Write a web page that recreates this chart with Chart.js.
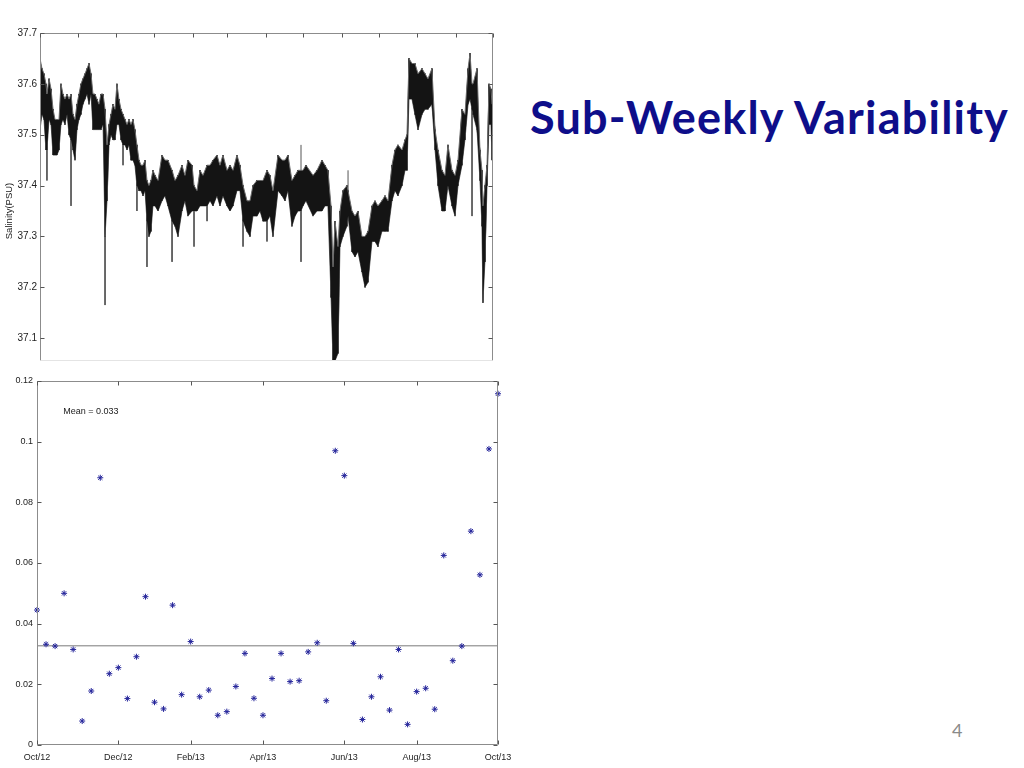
<!DOCTYPE html>
<html>
<head>
<meta charset="utf-8">
<script src="https://cdn.jsdelivr.net/npm/chart.js@4.4.0/dist/chart.umd.min.js"></script>
<style>
  body { margin: 0; background: #fff; width: 1024px; height: 768px; position: relative; overflow: hidden; }
  #topWrap { position: absolute; left: 0; top: 0; width: 510px; height: 370px; }
  #botWrap { position: absolute; left: 0; top: 370px; width: 520px; height: 398px; }
  .title { position: absolute; left: 530px; top: 90px; font-family: Lato, sans-serif; font-weight: bold;
           font-size: 45px; letter-spacing: 1.2px; line-height: 1.2; color: #0e0e8a; white-space: nowrap; }
  .pagenum { position: absolute; left: 952px; top: 719px; font-family: Lato, sans-serif; font-size: 18px; color: #8a8a8a; }
</style>
</head>
<body>
<div id="topWrap"><canvas id="salChart" width="510" height="370"></canvas></div>
<div id="botWrap"><canvas id="varChart" width="520" height="398"></canvas></div>
<div class="title">Sub-Weekly Variability</div>
<div class="pagenum">4</div>
<script>
// top panel: salinity record, envelope read column by column (day since 1 Oct 2012, high, low)
const salDay = [
  0, 1.6, 3.2, 4.8, 5.6, 7.3, 8.9, 10.5, 12.1, 13.7,
  15.3, 16.9, 18.5, 20.1, 21.8, 23.4, 25, 26.6, 28.2, 29.8,
  31.4, 33, 34.6, 36.3, 37.9, 39.5, 41.1, 42.7, 44.3, 45.9,
  47.5, 49.1, 50.8, 52.4, 54, 55.6, 57.2, 58.8, 60.4, 62,
  63.6, 65.3, 66.9, 68.5, 70.1, 71.7, 73.3, 74.9, 76.5, 78.1,
  79.8, 81.4, 83, 84.6, 86.2, 87.8, 89.4, 91, 92.7, 95.1,
  98.3, 100.7, 103.1, 106.4, 108.8, 111.2, 114.4, 116.8, 119.2, 122.5,
  124.1, 126.5, 128.9, 131.3, 134.6, 137, 139.4, 142.6, 145, 147.4,
  150.7, 153.1, 155.5, 158.7, 161.1, 163.6, 166.8, 169.2, 171.6, 174.8,
  177.3, 179.7, 182.9, 185.3, 187.7, 191.8, 195, 197.4, 199.8, 203,
  205.5, 207.9, 210.3, 211.9, 214.3, 220, 223.2, 227.2, 229.6, 232,
  234.5, 236.1, 237.7, 240.1, 241.7, 244.1, 247.3, 248.2, 251.4, 253.8,
  256.2, 259.4, 261.9, 264.3, 267.5, 269.9, 272.3, 275.5, 278, 280.4,
  283.6, 286, 288.4, 291.7, 294.1, 295.7, 297.3, 299.7, 302.1, 304.6,
  307.8, 310.2, 312.6, 315.8, 318.3, 320.7, 323.9, 326.3, 328.7, 332,
  334.4, 336.8, 340, 342.4, 344.9, 346.5, 348.1, 348.9, 352.1, 354.5,
  356.1, 356.9, 358.5, 360.2, 361.8, 363.4, 364.2
];
const salHigh = [
  37.65, 37.63, 37.62, 37.60, 37.58, 37.61, 37.59, 37.55, 37.53, 37.53,
  37.53, 37.60, 37.58, 37.57, 37.58, 37.57, 37.58, 37.54, 37.53, 37.56,
  37.58, 37.60, 37.61, 37.62, 37.63, 37.64, 37.62, 37.58, 37.58, 37.57,
  37.56, 37.58, 37.58, 37.55, 37.48, 37.52, 37.54, 37.56, 37.55, 37.60,
  37.57, 37.55, 37.54, 37.53, 37.52, 37.53, 37.52, 37.53, 37.51, 37.48,
  37.45, 37.44, 37.44, 37.45, 37.41, 37.40, 37.41, 37.43, 37.42, 37.41,
  37.46, 37.45, 37.45, 37.43, 37.41, 37.42, 37.44, 37.42, 37.45, 37.44,
  37.40, 37.39, 37.43, 37.42, 37.44, 37.44, 37.45, 37.46, 37.44, 37.46,
  37.43, 37.44, 37.43, 37.46, 37.44, 37.40, 37.37, 37.37, 37.40, 37.41,
  37.41, 37.41, 37.43, 37.42, 37.39, 37.46, 37.45, 37.45, 37.46, 37.41,
  37.42, 37.43, 37.43, 37.43, 37.44, 37.42, 37.43, 37.45, 37.44, 37.43,
  37.36, 37.24, 37.33, 37.28, 37.35, 37.39, 37.40, 37.39, 37.35, 37.34,
  37.35, 37.30, 37.30, 37.31, 37.36, 37.37, 37.36, 37.37, 37.38, 37.37,
  37.44, 37.47, 37.48, 37.47, 37.49, 37.50, 37.65, 37.64, 37.64, 37.62,
  37.63, 37.62, 37.61, 37.63, 37.51, 37.47, 37.43, 37.42, 37.48, 37.43,
  37.42, 37.45, 37.55, 37.54, 37.63, 37.66, 37.60, 37.60, 37.63, 37.47,
  37.43, 37.36, 37.40, 37.44, 37.60, 37.59, 37.56
];
const salLow = [
  37.51, 37.54, 37.53, 37.47, 37.47, 37.53, 37.52, 37.46, 37.46, 37.46,
  37.47, 37.52, 37.53, 37.52, 37.54, 37.50, 37.49, 37.47, 37.45, 37.51,
  37.53, 37.54, 37.56, 37.57, 37.58, 37.56, 37.58, 37.51, 37.51, 37.51,
  37.51, 37.51, 37.52, 37.30, 37.37, 37.48, 37.50, 37.49, 37.49, 37.52,
  37.52, 37.49, 37.48, 37.48, 37.47, 37.48, 37.45, 37.45, 37.44, 37.40,
  37.39, 37.39, 37.38, 37.39, 37.33, 37.30, 37.31, 37.36, 37.36, 37.35,
  37.37, 37.38, 37.36, 37.33, 37.32, 37.30, 37.35, 37.37, 37.34, 37.35,
  37.35, 37.35, 37.36, 37.36, 37.36, 37.37, 37.36, 37.38, 37.36, 37.38,
  37.36, 37.35, 37.36, 37.39, 37.39, 37.33, 37.31, 37.30, 37.34, 37.34,
  37.35, 37.33, 37.33, 37.34, 37.30, 37.39, 37.38, 37.37, 37.39, 37.32,
  37.34, 37.35, 37.35, 37.36, 37.37, 37.34, 37.35, 37.35, 37.36, 37.36,
  37.18, 37.055, 37.055, 37.07, 37.28, 37.30, 37.32, 37.34, 37.27, 37.26,
  37.27, 37.23, 37.20, 37.21, 37.29, 37.29, 37.28, 37.31, 37.31, 37.31,
  37.37, 37.39, 37.38, 37.40, 37.43, 37.43, 37.57, 37.57, 37.54, 37.51,
  37.54, 37.55, 37.55, 37.56, 37.47, 37.40, 37.35, 37.35, 37.40, 37.36,
  37.34, 37.40, 37.44, 37.49, 37.56, 37.57, 37.55, 37.54, 37.51, 37.41,
  37.32, 37.17, 37.25, 37.40, 37.52, 37.52, 37.45
];
// single-sample spikes that stick out of the band (day, band edge, tip)
const spikeDay = [5.6, 25, 52.4, 66.9, 78.1, 86.2, 106.4, 124.1, 134.6, 163.6, 182.9, 210.3, 210.3, 248.2, 348.1];
const spikeBase = [37.47, 37.49, 37.30, 37.48, 37.40, 37.33, 37.33, 37.35, 37.36, 37.33, 37.33, 37.35, 37.43, 37.39, 37.55];
const spikeTip = [37.41, 37.36, 37.165, 37.44, 37.35, 37.24, 37.25, 37.28, 37.33, 37.28, 37.29, 37.25, 37.48, 37.43, 37.34];

const salTicks = [37.1, 37.2, 37.3, 37.4, 37.5, 37.6, 37.7];
const monthStartDays = [0, 31, 61, 92, 123, 151, 182, 212, 243, 273, 304, 335, 365];

// bottom panel: weekly sub-weekly std
const weekValues = [
  0.0445, 0.0332, 0.0326, 0.050, 0.0315, 0.0079, 0.0178, 0.0881, 0.0235, 0.0255,
  0.0153, 0.0291, 0.0489, 0.0141, 0.0119, 0.0461, 0.0166, 0.0341, 0.0159, 0.0181,
  0.0098, 0.0110, 0.0193, 0.0302, 0.0154, 0.0098, 0.0219, 0.0302, 0.0209, 0.0212,
  0.0307, 0.0337, 0.0146, 0.0970, 0.0888, 0.0335, 0.0084, 0.0159, 0.0225, 0.0115,
  0.0315, 0.0068, 0.0176, 0.0187, 0.0118, 0.0625, 0.0278, 0.0326, 0.0705, 0.0561,
  0.0976, 0.1158
];
const weekTickPos = [0, 9, 17, 25, 34, 42, 51];
const weekTickLabels = ["Oct/12", "Dec/12", "Feb/13", "Apr/13", "Jun/13", "Aug/13", "Oct/13"];
const varTicks = [0, 0.02, 0.04, 0.06, 0.08, 0.1, 0.12];

const meanValue = weekValues.reduce((s, v) => s + v, 0) / weekValues.length;

const fontFamily = "'Liberation Sans', Arial, sans-serif";

// matlab style box with inward ticks
const boxTicks = {
  id: "boxTicks",
  afterDatasetsDraw(chart, args, opts) {
    const { ctx, chartArea: a, scales } = chart;
    const L = Math.round(a.left) + 0.5, R = Math.round(a.right) - 0.5;
    const T = Math.round(a.top) + 0.5, B = Math.round(a.bottom) - 0.5;
    ctx.save();
    ctx.lineWidth = 1;
    ctx.strokeStyle = opts.boxColor;
    ctx.beginPath();
    ctx.moveTo(L, B); ctx.lineTo(L, T); ctx.lineTo(R, T); ctx.lineTo(R, B);
    ctx.stroke();
    ctx.strokeStyle = opts.bottomColor;
    ctx.beginPath();
    ctx.moveTo(L, B); ctx.lineTo(R, B);
    ctx.stroke();
    ctx.strokeStyle = opts.tickColor;
    ctx.beginPath();
    opts.xTicks.forEach(v => {
      const px = Math.round(scales.x.getPixelForValue(v)) + 0.5;
      ctx.moveTo(px, T); ctx.lineTo(px, T + 4);
      if (opts.bottomTicks) { ctx.moveTo(px, B); ctx.lineTo(px, B - 4); }
    });
    opts.yTicks.forEach(v => {
      const py = Math.round(scales.y.getPixelForValue(v)) + 0.5;
      ctx.moveTo(L, py); ctx.lineTo(L + 4, py);
      ctx.moveTo(R, py); ctx.lineTo(R - 4, py);
    });
    ctx.stroke();
    ctx.restore();
  }
};

// free text labels (axis title of top panel, mean annotation)
const textNotes = {
  id: "textNotes",
  afterDraw(chart, args, opts) {
    const { ctx, chartArea: a, scales } = chart;
    ctx.save();
    ctx.fillStyle = "#222";
    (opts.notes || []).forEach(n => {
      ctx.save();
      ctx.font = n.size + "px " + fontFamily;
      if (n.rotate) {
        ctx.translate(n.px, (a.top + a.bottom) / 2 + n.dy);
        ctx.rotate(-Math.PI / 2);
        ctx.textAlign = "center";
        ctx.textBaseline = "middle";
        ctx.fillText(n.text, 0, 0);
      } else {
        ctx.textAlign = "left";
        ctx.textBaseline = "middle";
        ctx.fillText(n.text, scales.x.getPixelForValue(n.x), scales.y.getPixelForValue(n.y));
      }
      ctx.restore();
    });
    ctx.restore();
  }
};

const highPts = salDay.map((d, i) => ({ x: d, y: salHigh[i] }));
const lowPts = salDay.map((d, i) => ({ x: d, y: salLow[i] }));
const zigPts = [];
salDay.forEach((d, i) => {
  zigPts.push({ x: d, y: salHigh[i] });
  zigPts.push({ x: d, y: salLow[i] });
});
const spikePts = [];
spikeDay.forEach((d, i) => {
  spikePts.push({ x: d, y: spikeBase[i] }, { x: d, y: spikeTip[i] }, { x: d, y: null });
});

new Chart(document.getElementById("salChart"), {
  type: "line",
  data: {
    datasets: [{
      data: highPts,
      borderColor: "#6a6a6a",
      borderWidth: 1,
      backgroundColor: "#141414",
      fill: "+1",
      pointRadius: 0,
      tension: 0
    }, {
      data: lowPts,
      borderColor: "#6a6a6a",
      borderWidth: 1,
      pointRadius: 0,
      tension: 0
    }, {
      data: zigPts,
      borderColor: "#000",
      borderWidth: 1,
      pointRadius: 0,
      tension: 0
    }, {
      data: spikePts,
      borderColor: "#555",
      borderWidth: 1,
      pointRadius: 0,
      spanGaps: false
    }]
  },
  options: {
    responsive: false,
    animation: false,
    events: [],
    layout: { padding: { left: 0, right: 17, top: 33, bottom: 7 } },
    plugins: {
      legend: { display: false },
      tooltip: { enabled: false },
      filler: { propagate: false },
      boxTicks: { boxColor: "#8c8c8c", bottomColor: "#e4e4e4", tickColor: "#555", xTicks: monthStartDays, yTicks: salTicks, bottomTicks: false },
      textNotes: { notes: [{ text: "Salinity(PSU)", rotate: true, px: 9, dy: 14, size: 9.5 }] }
    },
    scales: {
      x: { type: "linear", display: false, min: 0, max: 365 },
      y: {
        min: 37.055, max: 37.7,
        afterFit: s => { s.width = 40; },
        afterBuildTicks: s => { s.ticks = salTicks.map(v => ({ value: v })); },
        grid: { display: false, drawTicks: false },
        border: { display: false },
        ticks: { color: "#222", font: { family: fontFamily, size: 10 }, padding: 3, callback: v => v.toFixed(1) }
      }
    }
  },
  plugins: [boxTicks, textNotes]
});

new Chart(document.getElementById("varChart"), {
  type: "scatter",
  data: {
    datasets: [{
      data: weekValues.map((v, i) => ({ x: i, y: v })),
      pointStyle: "star",
      pointRadius: 3,
      borderColor: "#24249a",
      backgroundColor: "#24249a",
      borderWidth: 1,
      clip: false
    }, {
      type: "line",
      data: [{ x: 0, y: meanValue }, { x: 51, y: meanValue }],
      borderColor: "#7a7a7a",
      borderWidth: 1,
      pointRadius: 0
    }]
  },
  options: {
    responsive: false,
    animation: false,
    events: [],
    layout: { padding: { left: 0, right: 22, top: 11, bottom: 3 } },
    plugins: {
      legend: { display: false },
      tooltip: { enabled: false },
      boxTicks: { boxColor: "#8c8c8c", bottomColor: "#8c8c8c", tickColor: "#555", xTicks: weekTickPos, yTicks: varTicks, bottomTicks: true },
      textNotes: { notes: [{ text: "Mean = " + meanValue.toFixed(3), x: 2.9, y: 0.1098, size: 9 }] }
    },
    scales: {
      x: {
        type: "linear", min: 0, max: 51,
        afterFit: s => { s.height = 20; },
        afterBuildTicks: s => { s.ticks = weekTickPos.map(v => ({ value: v })); },
        grid: { display: false, drawTicks: false },
        border: { display: false },
        ticks: { color: "#222", font: { family: fontFamily, size: 9 }, padding: 7, autoSkip: false, maxRotation: 0,
                 callback: (v, i) => weekTickLabels[i] }
      },
      y: {
        min: 0, max: 0.12,
        afterFit: s => { s.width = 37; },
        afterBuildTicks: s => { s.ticks = varTicks.map(v => ({ value: v })); },
        grid: { display: false, drawTicks: false },
        border: { display: false },
        ticks: { color: "#222", font: { family: fontFamily, size: 9 }, padding: 4, callback: v => String(+v.toFixed(2)) }
      }
    }
  },
  plugins: [boxTicks, textNotes]
});
</script>
</body>
</html>
